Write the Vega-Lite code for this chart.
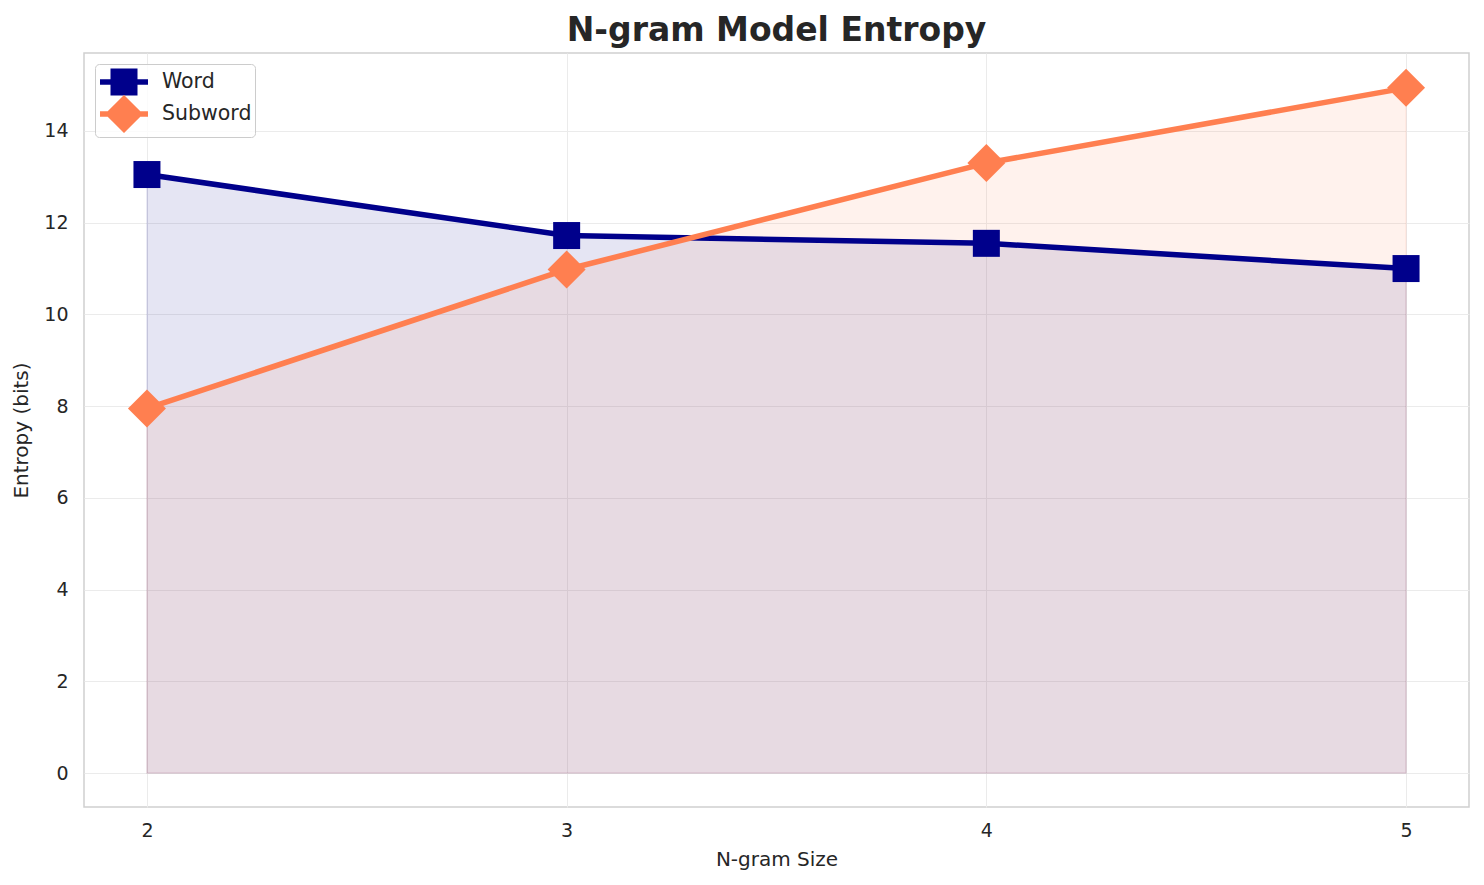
{
  "$schema": "https://vega.github.io/schema/vega-lite/v6.json",
  "width": 1385,
  "height": 754,
  "autosize": {"type": "none"},
  "padding": {"left": 84, "top": 53, "right": 15, "bottom": 78},
  "background": "white",
  "title": {
    "text": "N-gram Model Entropy",
    "font": "DejaVu Sans",
    "fontSize": 33,
    "fontWeight": "bold",
    "color": "#262626",
    "anchor": "middle",
    "offset": 5
  },
  "config": {
    "font": "DejaVu Sans",
    "view": {"stroke": "#d0d0d0", "strokeWidth": 1.5},
    "axis": {
      "labelFont": "DejaVu Sans",
      "titleFont": "DejaVu Sans",
      "labelColor": "#262626",
      "titleColor": "#262626",
      "labelFontSize": 19,
      "titleFontSize": 20,
      "titleFontWeight": "normal",
      "domain": false,
      "ticks": false,
      "tickSize": 0,
      "gridColor": "#ebebeb",
      "gridWidth": 1
    },
    "legend": {
      "title": null,
      "orient": "top-left",
      "offset": 11,
      "padding": 3,
      "symbolOffset": 11,
      "symbolSize": 900,
      "symbolStrokeWidth": 0,
      "symbolOpacity": 1,
      "labelOffset": 23,
      "rowPadding": -2,
      "labelFont": "DejaVu Sans",
      "labelFontSize": 20.5,
      "labelColor": "#262626",
      "strokeColor": "#cccccc",
      "cornerRadius": 4,
      "fillColor": "rgba(255,255,255,0.8)"
    }
  },
  "data": {
    "values": [
      {"n": 2, "series": "Word", "entropy": 13.05},
      {"n": 3, "series": "Word", "entropy": 11.72},
      {"n": 4, "series": "Word", "entropy": 11.55},
      {"n": 5, "series": "Word", "entropy": 11.0},
      {"n": 2, "series": "Subword", "entropy": 7.95},
      {"n": 3, "series": "Subword", "entropy": 10.98},
      {"n": 4, "series": "Subword", "entropy": 13.3},
      {"n": 5, "series": "Subword", "entropy": 14.94}
    ]
  },
  "encoding": {
    "x": {
      "field": "n",
      "type": "quantitative",
      "title": "N-gram Size",
      "scale": {"domain": [1.85, 5.15], "nice": false, "zero": false},
      "axis": {"values": [2, 3, 4, 5], "format": "d", "labelPadding": 14, "titlePadding": 9, "labelFlush": false}
    },
    "y": {
      "field": "entropy",
      "type": "quantitative",
      "title": "Entropy (bits)",
      "stack": null,
      "scale": {"domain": [-0.74, 15.7], "nice": false, "zero": false},
      "axis": {"values": [0, 2, 4, 6, 8, 10, 12, 14], "labelPadding": 16, "titlePadding": 12, "labelFlush": false}
    },
    "color": {"field": "series", "type": "nominal", "scale": {"domain": ["Word", "Subword"], "range": ["#00008B", "#FF7F50"]}, "legend": null}
  },
  "layer": [
    {
      "mark": {"type": "area", "fillOpacity": 0.1, "strokeOpacity": 0.12, "strokeWidth": 1.2},
      "encoding": {
        "y2": {"datum": 0},
        "stroke": {"field": "series", "type": "nominal", "scale": {"domain": ["Word", "Subword"], "range": ["#00008B", "#FF7F50"]}, "legend": null}
      }
    },
    {
      "mark": {"type": "line", "strokeWidth": 5.5, "strokeCap": "round", "strokeJoin": "round"},
      "encoding": {}
    },
    {
      "mark": {"type": "point", "filled": true, "opacity": 1, "strokeWidth": 0},
      "encoding": {
        "shape": {"field": "series", "type": "nominal", "scale": {"domain": ["Word", "Subword"], "range": ["square", "diamond"]}, "legend": null},
        "size": {"field": "series", "type": "nominal", "scale": {"domain": ["Word", "Subword"], "range": [729, 1444]}, "legend": null}
      }
    },
    {
      "mark": {"type": "point", "filled": true, "opacity": 1, "size": 0, "strokeWidth": 0},
      "encoding": {
        "color": {
          "field": "series",
          "type": "nominal",
          "scale": {"domain": ["Word", "Subword"], "range": ["#00008B", "#FF7F50"]},
          "legend": {"title": null}
        },
        "shape": {
          "field": "series",
          "type": "nominal",
          "scale": {
            "domain": ["Word", "Subword"],
            "range": [
              "M-1.6,-0.18H1.6V0.18H-1.6Z M-0.9,-0.9H0.9V0.9H-0.9Z",
              "M-1.6,-0.18H1.6V0.18H-1.6Z M-1.27,0L0,-1.27L1.27,0L0,1.27Z"
            ]
          },
          "legend": {"title": null}
        }
      }
    }
  ],
  "resolve": {"scale": {"shape": "independent", "size": "independent", "color": "independent"}}
}
